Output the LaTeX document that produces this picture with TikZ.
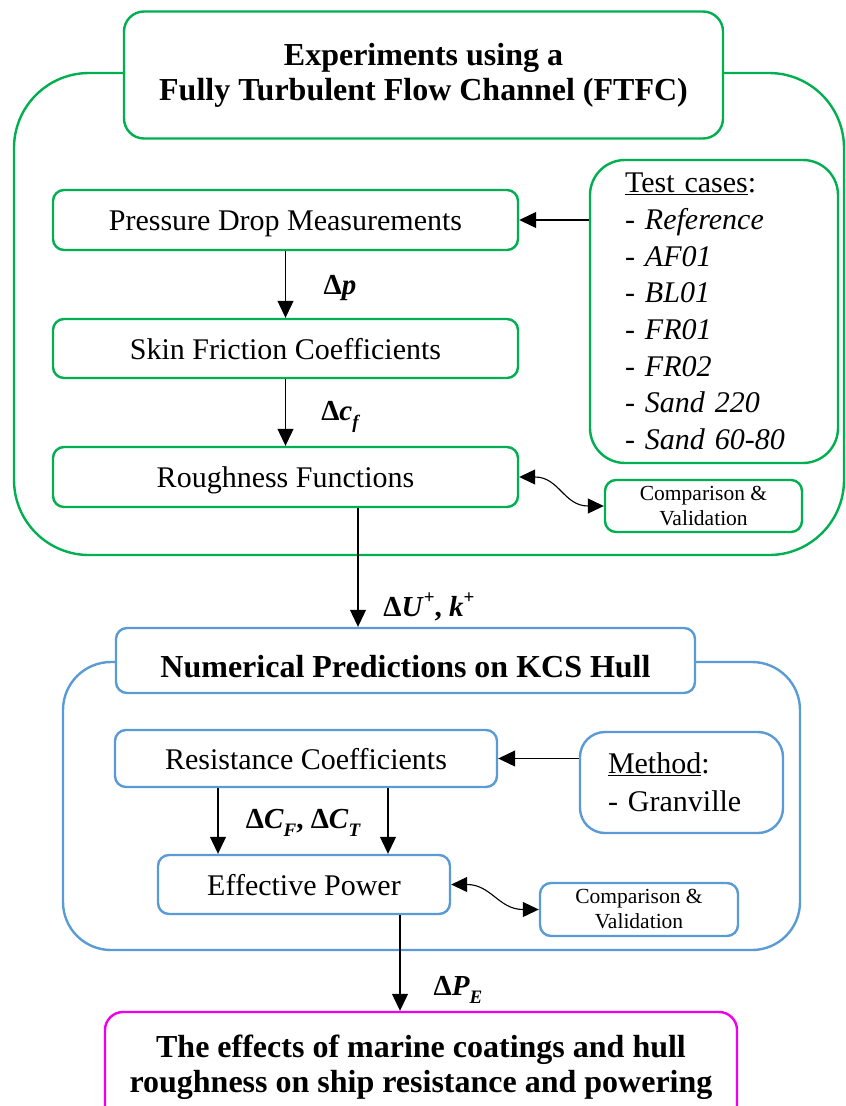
\documentclass[tikz,border=0pt]{standalone}
\usepackage{fontspec}
\setmainfont{Liberation Serif}
\usetikzlibrary{arrows.meta,calc}
\definecolor{fgreen}{RGB}{0,176,80}
\definecolor{fblue}{RGB}{91,155,213}
\definecolor{fmag}{RGB}{238,0,238}
\newcommand\fs[2]{\fontsize{#1}{#2}\selectfont}
\newcommand\sbs[1]{\raisebox{-0.3em}{\fs{19}{19}\bfseries\itshape #1}}
\newcommand\sps[1]{\raisebox{0.45em}{\fs{19}{19}\bfseries #1}}
\begin{document}
\begin{tikzpicture}[x=1pt,y=-1pt,
  gbox/.style={draw=fgreen,line width=2.4pt,fill=white,rounded corners=11pt,inner sep=0pt,align=center,font=\fs{30}{36}},
  bbox/.style={draw=fblue,line width=2.4pt,fill=white,rounded corners=11pt,inner sep=0pt,align=center,font=\fs{30}{36}},
  oneline/.style={text height=21pt,text depth=0pt},
  arr/.style={-{Triangle[length=17pt,width=16pt]},line width=1.1pt},
  darr/.style={{Triangle[length=16pt,width=15pt]}-{Triangle[length=16pt,width=15pt]},line width=1.1pt},
  lbl/.style={font=\fs{29}{32}\bfseries,inner sep=0pt}]
\useasboundingbox (0,0) rectangle (846,1106);

% containers
\draw[draw=fgreen,line width=2.4pt,rounded corners=75pt] (14,73) rectangle (844,555);
\draw[draw=fblue,line width=2.4pt,rounded corners=48pt] (63,662) rectangle (800,950);

% green part
\node[gbox,rounded corners=20pt,minimum width=599pt,minimum height=127pt,font=\fs{32}{35}\bfseries] (title) at (423.5,75)
  {Experiments using a\\Fully Turbulent Flow Channel (FTFC)};
\node[gbox,oneline,minimum width=465pt,minimum height=60pt] (pdm) at (285.5,220) {Pressure Drop Measurements};
\node[gbox,oneline,minimum width=465pt,minimum height=59pt] (sfc) at (285.5,348.5) {Skin Friction Coefficients};
\node[gbox,oneline,minimum width=465pt,minimum height=60pt] (rf) at (285.5,477) {Roughness Functions};
\node[gbox,rounded corners=35pt,minimum width=248pt,minimum height=303pt,text width=178pt,align=left,font=\fs{30}{36.7}] (test) at (714,311.5)
  {\underline{Test cases}:\\- \textit{Reference}\\- \textit{AF01}\\- \textit{BL01}\\- \textit{FR01}\\- \textit{FR02}\\- \textit{Sand 220}\\- \textit{Sand 60-80}};
\node[gbox,minimum width=197pt,minimum height=52pt,font=\fs{21.5}{25}] (cv1) at (703.5,506) {Comparison \&\\Validation};

\draw[arr] (pdm.south) -- (sfc.north);
\draw[arr] (sfc.south) -- (rf.north);
\node[lbl] (lp) at (340,288) {Δ\textit{p}};
\node[lbl] (lcf) at (340,417) {Δ\textit{c}\sbs{f}};
\draw[arr] (test.west |- pdm.east) -- (pdm.east);
\draw[darr] (rf.east) .. controls +(40,0) and +(-40,0) .. (cv1.west);

% blue part
\node[bbox,minimum width=579pt,minimum height=65pt] (num) at (405.5,660.5) {};
\node[font=\fs{32}{35}\bfseries,inner sep=0pt,anchor=base] (numtxt) at (405.5,677) {Numerical Predictions on KCS Hull};
\coordinate (c0) at (358,0);
\draw[arr] (rf.south -| c0) -- (num.north -| c0);
\node[lbl] (lu) at (429,607) {Δ\textit{U}\sps{+}, \textit{k}\sps{+}};

\node[bbox,oneline,minimum width=382pt,minimum height=57pt] (rc) at (306,758.5) {Resistance Coefficients};
\node[bbox,rounded corners=25pt,minimum width=203pt,minimum height=101pt,text width=147pt,align=left,font=\fs{30}{38}] (meth) at (681.5,782.5)
  {\underline{Method}:\\- Granville};
\node[bbox,oneline,minimum width=292pt,minimum height=59pt] (ep) at (304,884.5) {Effective Power};
\node[bbox,minimum width=198pt,minimum height=53pt,font=\fs{21.5}{25}] (cv2) at (639,909.5) {Comparison \&\\Validation};

\draw[arr] (meth.west |- rc.east) -- (rc.east);
\coordinate (c1) at (218,0);
\coordinate (c2) at (388,0);
\draw[arr] (rc.south -| c1) -- (ep.north -| c1);
\draw[arr] (rc.south -| c2) -- (ep.north -| c2);
\node[lbl] (lct) at (303,823) {Δ\textit{C}\sbs{F}, Δ\textit{C}\sbs{T}};
\draw[darr] (ep.east) .. controls +(40,0) and +(-40,0) .. (cv2.west);

% final
\node[draw=fmag,line width=2.4pt,fill=white,rounded corners=18pt,minimum width=632pt,minimum height=130pt] (final) at (421,1077) {};
\node[font=\fs{32}{35}\bfseries,align=center,inner sep=0pt] (finaltxt) at (421,1067)
  {The effects of marine coatings and hull\\roughness on ship resistance and powering};
\coordinate (c3) at (400,0);
\draw[arr] (ep.south -| c3) -- (final.north -| c3);
\node[lbl] (lpe) at (458,990) {Δ\textit{P}\sbs{E}};
\end{tikzpicture}
\end{document}
